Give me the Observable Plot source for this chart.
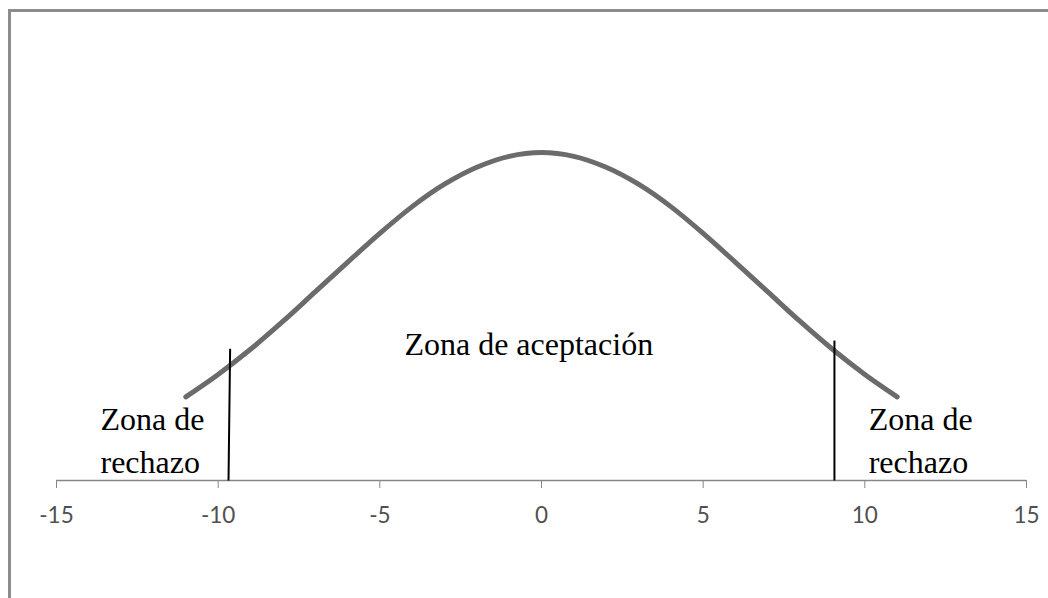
<!DOCTYPE html>
<html>
<head>
<meta charset="utf-8">
<script src="https://cdn.jsdelivr.net/npm/d3@7"></script>
<script src="https://cdn.jsdelivr.net/npm/@observablehq/plot@0.6"></script>
<style>
  html, body { margin: 0; padding: 0; background: #fff; }
  #wrap { position: relative; width: 1048px; height: 598px; overflow: hidden; }
  #frame { position: absolute; left: 8px; top: 9px; right: -10px; bottom: -10px;
           border-top: 3px solid #8c8c8c; border-left: 3px solid #8c8c8c; pointer-events: none; }
</style>
</head>
<body>
<div id="wrap"><div id="frame"></div></div>
<script>
// Curve points (x, height of the bell curve)
const curveX = [-11, -10, -9, -8, -7, -6, -5, -4, -3, -2, -1, 0, 1, 2, 3, 4, 5, 6, 7, 8, 9, 10, 11];
const curveY = [0.0153, 0.0194, 0.0240, 0.0291, 0.0345, 0.0399, 0.0452, 0.0501, 0.0542, 0.0573, 0.0593, 0.0600,
                0.0593, 0.0573, 0.0542, 0.0501, 0.0452, 0.0399, 0.0345, 0.0291, 0.0240, 0.0194, 0.0153];

// Critical value lines (bottom x, top x, top height)
const critBottomX = [-9.68, 9.06];
const critTopX = [-9.63, 9.06];
const critTopY = [0.0241, 0.0256];

// X axis ticks
const xTicks = [-15, -10, -5, 0, 5, 10, 15];

// Labels
const labelText = ["Zona de aceptación", "Zona de\nrechazo", "Zona de\nrechazo"];
const labelX = [-4.24, -13.64, 10.12];
const labelY = [0.0229, 0.0013, 0.0013];

const curve = curveX.map((x, i) => ({x, y: curveY[i]}));
const crit = critBottomX.map((x, i) => ({x1: x, y1: 0, x2: critTopX[i], y2: critTopY[i]}));
const labels = labelText.map((t, i) => ({t, x: labelX[i], y: labelY[i]}));

const chart = Plot.plot({
  width: 1048,
  height: 598,
  marginLeft: 56,
  marginRight: 22,
  marginTop: 152,
  marginBottom: 118,
  style: {background: "transparent", overflow: "visible"},
  x: {domain: [-15, 15], axis: null},
  y: {domain: [0, 0.06], axis: null},
  marks: [
    Plot.ruleY([0], {stroke: "#868686", strokeWidth: 1.3}),
    Plot.axisX({ticks: xTicks, tickSize: 8, tickPadding: 19, stroke: "#868686", strokeOpacity: 1,
                color: "#505050", fontSize: 22.5, fontFamily: "Lato, 'Open Sans', sans-serif",
                tickFormat: d => String(d).replace("−", "-")}),
    Plot.line(curve, {x: "x", y: "y", curve: "catmull-rom", stroke: "#6b6b6b", strokeWidth: 5,
                      strokeLinecap: "round", strokeLinejoin: "round"}),
    Plot.link(crit, {x1: "x1", y1: "y1", x2: "x2", y2: "y2", stroke: "#000", strokeWidth: 2}),
    Plot.text(labels, {x: "x", y: "y", text: "t", textAnchor: "start", lineAnchor: "bottom",
                       fontSize: 32, lineHeight: 1.35, fill: "#000",
                       fontFamily: "'Liberation Serif', 'Times New Roman', serif"})
  ]
});
document.getElementById("wrap").insertBefore(chart, document.getElementById("frame"));
</script>
</body>
</html>
